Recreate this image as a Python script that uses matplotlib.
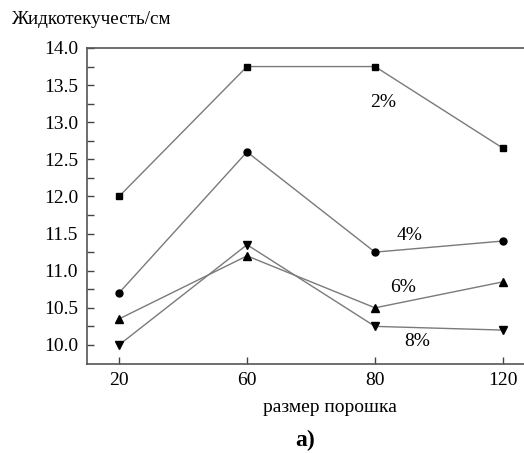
import matplotlib
matplotlib.use("Agg")
import matplotlib.pyplot as plt

# powder size categories and fluidity per additive fraction
sizes = ["20", "60", "80", "120"]
fluid_2 = [12.0, 13.75, 13.75, 12.65]
fluid_4 = [10.7, 12.6, 11.25, 11.4]
fluid_6 = [10.35, 11.2, 10.5, 10.85]
fluid_8 = [10.0, 11.35, 10.25, 10.2]
series_labels = ["2%", "4%", "6%", "8%"]
label_pos = [(2.06, 13.27), (2.27, 11.48), (2.22, 10.78), (2.33, 10.04)]

plt.rcParams.update({
    "font.family": ["Liberation Serif", "DejaVu Serif"],
    "font.size": 14,
})

fig = plt.figure(figsize=(5.24, 4.53), dpi=100)
ax = fig.add_axes([87 / 524, 1 - 363.5 / 453, 1 - 87 / 524, (363.5 - 48) / 453])

x = list(range(len(sizes)))
line_kw = dict(color="#7a7a7a", linewidth=1.0, markerfacecolor="black",
               markeredgecolor="black")
ax.plot(x, fluid_2, marker="s", markersize=4.5, **line_kw)
ax.plot(x, fluid_4, marker="o", markersize=5, **line_kw)
ax.plot(x, fluid_6, marker="^", markersize=5.5, **line_kw)
ax.plot(x, fluid_8, marker="v", markersize=5.5, **line_kw)

for text, (tx, ty) in zip(series_labels, label_pos):
    ax.text(tx, ty, text, ha="center", va="center", fontsize=14)

ax.set_xlim(-0.25, 3 + 21 / 128)
ax.set_ylim(9.75, 14.0)
ax.set_xticks(x)
ax.set_xticklabels(sizes)
ax.set_yticks([10.0, 10.5, 11.0, 11.5, 12.0, 12.5, 13.0, 13.5, 14.0])
ax.set_yticks([10.25, 10.75, 11.25, 11.75, 12.25, 12.75, 13.25, 13.75], minor=True)
ax.yaxis.set_major_formatter(matplotlib.ticker.FormatStrFormatter("%.1f"))
ax.tick_params(which="both", direction="in", color="#444444", width=1)
ax.tick_params(axis="y", which="major", length=5, pad=6.5)
ax.tick_params(axis="y", which="minor", length=5)
ax.tick_params(axis="x", which="major", length=5, pad=6)

ax.spines["right"].set_visible(False)
for side in ["left", "top", "bottom"]:
    ax.spines[side].set_color("#555555")
    ax.spines[side].set_linewidth(1.2)

fig.text(12 / 524, 1 - 20 / 453, "Жидкотекучесть/см", ha="left", va="center",
         fontsize=13.7)
fig.text(330 / 524, 1 - 407 / 453, "размер порошка", ha="center", va="center",
         fontsize=14)
fig.text(305 / 524, 1 - 440 / 453, "а)", ha="center", va="center",
         fontsize=17, fontweight="bold")

fig.savefig("out.png", dpi=100)
